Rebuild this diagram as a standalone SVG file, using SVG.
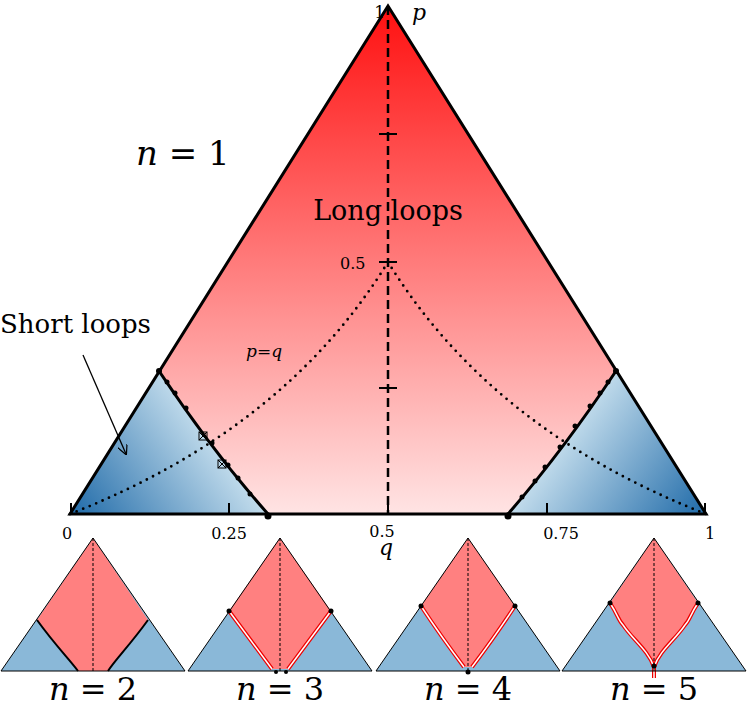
<svg xmlns="http://www.w3.org/2000/svg" width="748" height="707" viewBox="0 0 748 707">
<defs>
<linearGradient id="red" x1="0" y1="0" x2="0" y2="1"><stop offset="0" stop-color="#ff1010"/><stop offset="1" stop-color="#ffe4e4"/></linearGradient>
<linearGradient id="bl" x1="70" y1="514" x2="200" y2="420" gradientUnits="userSpaceOnUse"><stop offset="0" stop-color="#1f6aa8"/><stop offset="1" stop-color="#c2dcec"/></linearGradient>
<linearGradient id="br" x1="706" y1="514" x2="576" y2="420" gradientUnits="userSpaceOnUse"><stop offset="0" stop-color="#1f6aa8"/><stop offset="1" stop-color="#c2dcec"/></linearGradient>
<marker id="ah" viewBox="0 0 10 10" refX="9" refY="5" markerWidth="10" markerHeight="10" orient="auto" markerUnits="userSpaceOnUse"><path d="M0,0 L10,5 L0,10" fill="none" stroke="#000" stroke-width="1.2"/></marker>
<style>
text{font-family:'DejaVu Serif','Liberation Serif',serif;fill:#000}
.it{font-style:italic}
.rb{fill:none;stroke:#e00;stroke-width:4}
.wb{fill:none;stroke:#fff;stroke-width:1.5}
.sm{stroke:#000;stroke-width:1;fill:none}
</style>
</defs>
<g id="main">
<path d="M388,6 L706,514 L70,514 Z" fill="url(#red)"/>
<path d="M70,514 L159,371 C185,410 220,460 268,514 Z" fill="url(#bl)"/>
<path d="M706,514 L616,371 C590,410 555,460 508,514 Z" fill="url(#br)"/>
<path d="M159,371 C185,410 220,460 268,514" fill="none" stroke="#000" stroke-width="3"/>
<path d="M616,371 C590,410 555,460 508,514" fill="none" stroke="#000" stroke-width="3"/>
<g fill="#000">
<circle cx="159" cy="371" r="3"/><circle cx="268" cy="516" r="3.5"/><circle cx="616" cy="371" r="3"/><circle cx="508" cy="516" r="3.5"/>
<circle cx="167" cy="382" r="2.5"/><circle cx="175" cy="393" r="2.5"/><circle cx="186" cy="408" r="2.5"/><circle cx="212" cy="443" r="2.5"/><circle cx="228" cy="465" r="2.5"/><circle cx="238" cy="478" r="2.5"/><circle cx="250" cy="494" r="2.5"/>
<circle cx="608" cy="382" r="2.5"/><circle cx="600" cy="393" r="2.5"/><circle cx="590" cy="406" r="2.5"/><circle cx="575" cy="426" r="2.5"/><circle cx="560" cy="447" r="2.5"/><circle cx="545" cy="467" r="2.5"/><circle cx="535" cy="481" r="2.5"/><circle cx="522" cy="497" r="2.5"/>
</g>
<rect x="199" y="432" width="8" height="8" class="sm" stroke-width="1.5"/><line x1="199" y1="432" x2="207" y2="440" class="sm"/><line x1="207" y1="432" x2="199" y2="440" class="sm"/>
<rect x="218" y="460" width="8" height="8" class="sm" stroke-width="1.5"/><line x1="218" y1="460" x2="226" y2="468" class="sm"/><line x1="226" y1="460" x2="218" y2="468" class="sm"/>
<path d="M70,514 Q285,430 388,262 Q491,430 706,514" fill="none" stroke="#000" stroke-width="2.8" stroke-dasharray="0 7" stroke-linecap="round"/>
<path d="M388,6 L706,514 L70,514 Z" fill="none" stroke="#000" stroke-width="3"/>
<line x1="388" y1="6" x2="388" y2="514" stroke="#000" stroke-width="2.5" stroke-dasharray="9 5"/>
<g stroke="#000" stroke-width="2"><line x1="379" y1="134" x2="397" y2="134"/><line x1="379" y1="262" x2="397" y2="262"/><line x1="379" y1="388" x2="397" y2="388"/>
<line x1="71" y1="503" x2="71" y2="514"/><line x1="229" y1="503" x2="229" y2="514"/><line x1="388" y1="503" x2="388" y2="514"/><line x1="547" y1="503" x2="547" y2="514"/><line x1="705" y1="503" x2="705" y2="514"/></g>
</g>
<g id="labels">
<text x="385" y="18" font-size="17" text-anchor="end">1</text>
<text class="it" x="412" y="20" font-size="22">p</text>
<text x="340" y="269" font-size="16">0.5</text>
<text x="67" y="539" font-size="16" text-anchor="middle">0</text>
<text x="229" y="539" font-size="16" text-anchor="middle">0.25</text>
<text x="382" y="537" font-size="16" text-anchor="middle">0.5</text>
<text x="561" y="539" font-size="16" text-anchor="middle">0.75</text>
<text x="710" y="539" font-size="16" text-anchor="middle">1</text>
<text class="it" x="386" y="555" font-size="22" text-anchor="middle">q</text>
<text x="136" y="165" font-size="34"><tspan font-style="italic">n</tspan> = 1</text>
<text x="388" y="220" font-size="27" text-anchor="middle">Long loops</text>
<text x="0" y="333" font-size="26">Short loops</text>
<text x="246" y="357" font-size="17"><tspan font-style="italic">p</tspan>=<tspan font-style="italic">q</tspan></text>
</g>
<g id="connectors"><line x1="83" y1="355" x2="126" y2="454" stroke="#000" stroke-width="1.3" marker-end="url(#ah)"/></g>
<g id="n2">
<path d="M1,671 L93,538 L185,671 Z" fill="#8ab8d8"/>
<path d="M37,620 L93,538 L148,620 C130,645 115,660 108,671 L78,671 C70,660 55,645 37,620 Z" fill="#ff8080"/>
<path d="M37,620 C55,645 70,660 78,671 M148,620 C130,645 115,660 108,671" fill="none" stroke="#000" stroke-width="2"/>
<path d="M1,671 L93,538 L185,671 Z" class="sm"/><line x1="93" y1="538" x2="93" y2="671" stroke="#000" stroke-dasharray="3 2"/>
<text x="93" y="700" font-size="32" text-anchor="middle"><tspan font-style="italic">n</tspan> = 2</text>
</g>
<g id="n3">
<path d="M188,671 L280,538 L372,671 Z" fill="#8ab8d8"/>
<path d="M229,611 L280,538 L331,611 L288,669 L272,669 Z" fill="#ff8080"/>
<path d="M229,611 L272,669 M331,611 L288,669" class="rb"/><path d="M229,611 L272,669 M331,611 L288,669" class="wb"/>
<path d="M188,671 L280,538 L372,671 Z" class="sm"/><line x1="280" y1="538" x2="280" y2="671" stroke="#000" stroke-dasharray="3 2"/>
<circle cx="229" cy="611" r="2.5"/><circle cx="331" cy="611" r="2.5"/><circle cx="276" cy="672" r="2"/><circle cx="286" cy="672" r="2"/>
<text x="280" y="700" font-size="32" text-anchor="middle"><tspan font-style="italic">n</tspan> = 3</text>
</g>
<g id="n4">
<path d="M376,671 L468,538 L560,671 Z" fill="#8ab8d8"/>
<path d="M421,606 L468,538 L515,606 L472,667 L464,667 Z" fill="#ff8080"/>
<path d="M421,606 C440,635 455,655 464,667 M515,606 C496,635 481,655 472,667" class="rb"/><path d="M421,606 C440,635 455,655 464,667 M515,606 C496,635 481,655 472,667" class="wb"/>
<path d="M376,671 L468,538 L560,671 Z" class="sm"/><line x1="468" y1="538" x2="468" y2="671" stroke="#000" stroke-dasharray="3 2"/>
<circle cx="421" cy="606" r="2.5"/><circle cx="515" cy="606" r="2.5"/><circle cx="468" cy="672" r="2.5"/>
<text x="468" y="700" font-size="32" text-anchor="middle"><tspan font-style="italic">n</tspan> = 4</text>
</g>
<g id="n5">
<path d="M562,671 L654,538 L746,671 Z" fill="#8ab8d8"/>
<path d="M610,603 L654,538 L698,603 C690,615 690,620 685,625 C675,640 660,650 654,667 C648,650 633,640 623,625 C618,620 618,615 610,603 Z" fill="#ff8080"/>
<path d="M610,603 C618,615 618,620 623,625 C633,640 648,650 654,667 M698,603 C690,615 690,620 685,625 C675,640 660,650 654,667 L654,678" class="rb"/>
<path d="M610,603 C618,615 618,620 623,625 C633,640 648,650 654,667 M698,603 C690,615 690,620 685,625 C675,640 660,650 654,667 L654,678" class="wb"/>
<path d="M562,671 L654,538 L746,671 Z" class="sm"/><line x1="654" y1="538" x2="654" y2="671" stroke="#000" stroke-dasharray="3 2"/>
<circle cx="610" cy="603" r="2.5"/><circle cx="698" cy="603" r="2.5"/><circle cx="654" cy="666" r="2.5"/>
<text x="654" y="700" font-size="32" text-anchor="middle"><tspan font-style="italic">n</tspan> = 5</text>
</g>
</svg>
